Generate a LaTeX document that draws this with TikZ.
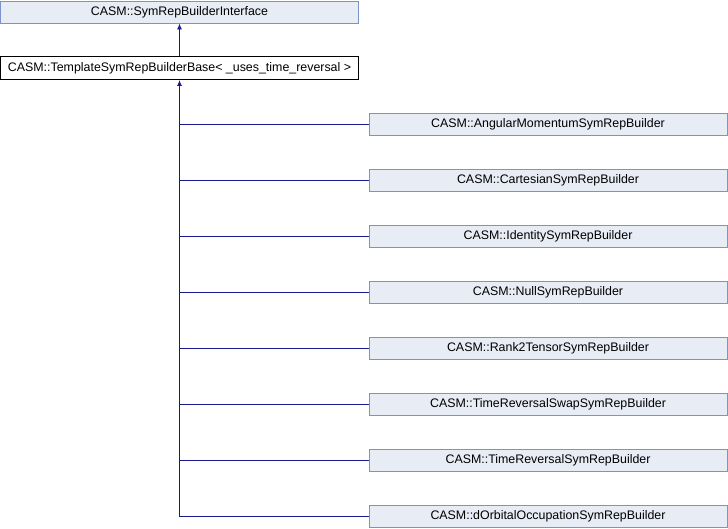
\documentclass[tikz,border=0pt]{standalone}
\usepackage{fontspec}
\setmainfont{Liberation Sans}
\usetikzlibrary{arrows.meta}
\definecolor{boxfill}{HTML}{E8ECF5}
\definecolor{boxline}{HTML}{7B93C8}
\definecolor{edge}{HTML}{191990}
\begin{document}
\begin{tikzpicture}[x=1pt,y=-1pt,
  cls/.style={draw=boxline,fill=boxfill,line width=0.9pt,minimum height=22pt,inner sep=0pt,font=\fontsize{12.4}{14}\selectfont},
  base/.style={draw=black,fill=white,line width=0.9pt,minimum height=23pt,inner sep=0pt,font=\fontsize{12.4}{14}\selectfont},
  inh/.style={draw=edge,line width=0.9pt,-{Latex[length=6pt,width=5pt]}}]
\useasboundingbox (0,0) rectangle (728,528);
\node[cls,minimum width=358pt] (iface) at (179.5,12) {CASM::SymRepBuilderInterface};
\node[base,minimum width=358pt] (tmpl) at (179.5,68) {CASM::TemplateSymRepBuilderBase< \_uses\_time\_reversal >};
\foreach \n/\t [count=\i] in {
  am/CASM::AngularMomentumSymRepBuilder,
  cart/CASM::CartesianSymRepBuilder,
  ident/CASM::IdentitySymRepBuilder,
  null/CASM::NullSymRepBuilder,
  rank/CASM::Rank2TensorSymRepBuilder,
  trs/CASM::TimeReversalSwapSymRepBuilder,
  tr/CASM::TimeReversalSymRepBuilder,
  dorb/CASM::dOrbitalOccupationSymRepBuilder}{
  \node[cls,minimum width=358pt] (\n) at (548,68+56*\i) {\t};
}
\draw[inh] (tmpl.north) -- (iface.south);
\coordinate (trunk) at (179.5,516);
\draw[inh] (dorb.west) -- (trunk) -- (tmpl.south);
\foreach \n in {am,cart,ident,null,rank,trs,tr}{
  \draw[draw=edge,line width=0.9pt] (\n.west) -- (\n.west -| trunk);
}
\end{tikzpicture}
\end{document}
